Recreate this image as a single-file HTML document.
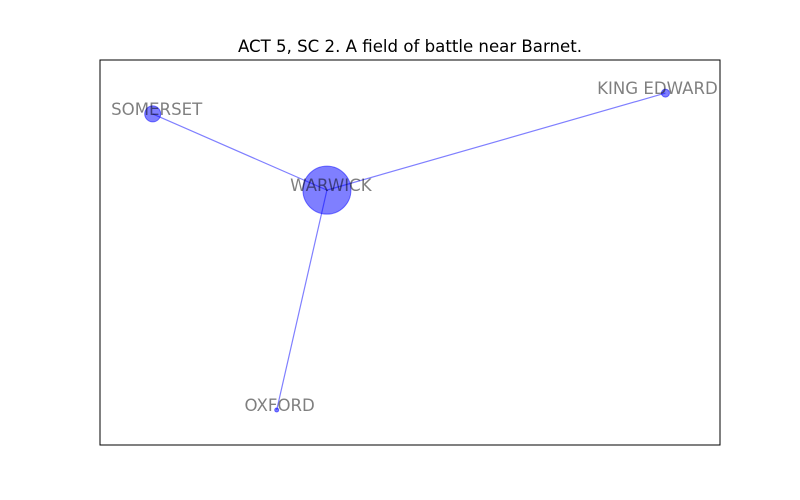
<!DOCTYPE html>
<html><head><meta charset="utf-8"><style>
html,body{margin:0;padding:0;background:#fff;}
svg{display:block;font-family:"DejaVu Sans","Liberation Sans",sans-serif;}
</style></head><body>
<svg id="chart" width="800" height="500">
<text x="410" y="52" text-anchor="middle" font-size="16.6" fill="#000">ACT 5, SC 2. A field of battle near Barnet.</text>
<rect x="100" y="60" width="620" height="385" fill="none" stroke="#000" stroke-width="1"/>
<g id="edges"></g>
<g id="nodes"></g>
<g id="labels"></g>
</svg>
<script>
const nodeNames = ["WARWICK","SOMERSET","KING EDWARD","OXFORD"];
const nodeX = [0.366, 0.085, 0.912, 0.285];
const nodeY = [0.662, 0.860, 0.914, 0.091];
const nodeSize = [24, 8, 4, 2];
const edgeFrom = [0, 0, 0];
const edgeTo = [1, 2, 3];

const labelShift = [4, 4, -8, 3];
const X0=100, X1=720, Y0=445, Y1=60;
function sx(v){return X0+v*(X1-X0);}
function sy(v){return Y0+v*(Y1-Y0);}
const NS="http://www.w3.org/2000/svg";
const eg=document.getElementById('edges'), ng=document.getElementById('nodes'), lg=document.getElementById('labels');
for(let i=0;i<edgeFrom.length;i++){
  const a=edgeFrom[i], b=edgeTo[i];
  const l=document.createElementNS(NS,'line');
  l.setAttribute('x1',sx(nodeX[a]));l.setAttribute('y1',sy(nodeY[a]));
  l.setAttribute('x2',sx(nodeX[b]));l.setAttribute('y2',sy(nodeY[b]));
  l.setAttribute('stroke','rgba(0,0,255,0.5)');l.setAttribute('stroke-width','1.2');
  
  
  eg.appendChild(l);
}
for(let i=0;i<nodeNames.length;i++){
  const c=document.createElementNS(NS,'circle');
  c.setAttribute('cx',sx(nodeX[i]));c.setAttribute('cy',sy(nodeY[i]));c.setAttribute('r',nodeSize[i]);
  c.setAttribute('fill','rgba(0,0,255,0.5)');c.setAttribute('stroke','rgba(0,0,255,0.5)');c.setAttribute('stroke-width','1');
  
  
  ng.appendChild(c);
  const t=document.createElementNS(NS,'text');
  t.setAttribute('x',sx(nodeX[i])+labelShift[i]);t.setAttribute('y',sy(nodeY[i])+1);
  t.setAttribute('text-anchor','middle');t.setAttribute('font-size','16.6');t.setAttribute('fill','rgba(0,0,0,0.5)');
  t.textContent=nodeNames[i];
  
  
  lg.appendChild(t);
}
</script>
</body></html>
